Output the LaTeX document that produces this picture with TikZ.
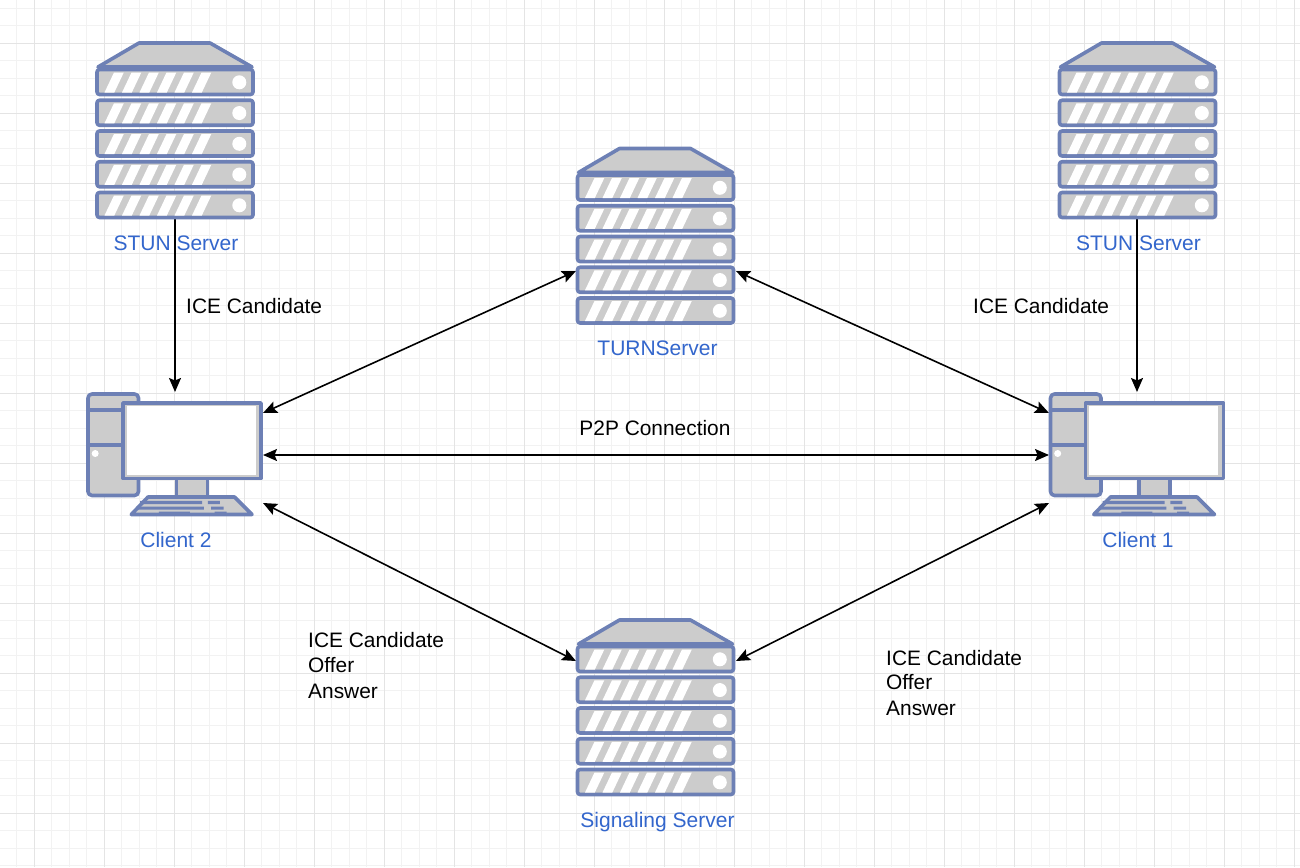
\documentclass[tikz,border=0pt]{standalone}
\usepackage{fontspec}
\setmainfont{Liberation Sans}
\usetikzlibrary{arrows.meta}
\definecolor{icoline}{HTML}{6D80B5}
\definecolor{icofill}{HTML}{CCCCCC}
\definecolor{lblblue}{HTML}{3366CC}
\definecolor{gridminor}{HTML}{F2F2F2}
\definecolor{gridmajor}{HTML}{E4E4E4}
\tikzset{
  x=1pt,y=-1pt,
  ico/.style={draw=icoline,fill=icofill,line width=3.6pt,line join=round},
  holder/.style={inner sep=0pt,outer sep=0pt,minimum width=158pt,minimum height=176pt},
  pcholder/.style={inner sep=0pt,outer sep=0pt,minimum width=176pt,minimum height=125pt},
  bluelabel/.style={text=lblblue,font=\fontsize{21}{25}\selectfont,inner sep=0pt},
  blacklabel/.style={text=black,font=\fontsize{20.9}{25}\selectfont,inner sep=0pt,align=left},
  conn/.style={draw=black,line width=1.6pt,{Stealth[length=14pt,width=12pt,inset=2.5pt]}-{Stealth[length=14pt,width=12pt,inset=2.5pt]}},
  connone/.style={draw=black,line width=1.6pt,-{Stealth[length=14pt,width=12pt,inset=2.5pt]}},
  server/.pic={
    \path[ico] (43,0) -- (114,0) -- (156,24) -- (2,24) -- cycle;
    \foreach \u in {26.5,57.25,88,118.75,149.5}{
      \path[ico] (1,\u) [rounded corners=2.5pt] rectangle (157,\u+25);
      \foreach \s in {0,17.5,35,52.5,70,87.5}{
        \fill[white] (8.5+\s,\u+23) -- (18.3+\s,\u+23) -- (27.8+\s,\u+3) -- (18+\s,\u+3) -- cycle;
      }
      \fill[white] (143.3,\u+12.8) circle (7pt);
    }
  },
  client/.pic={
    \path[ico] (2.5,2.5) [rounded corners=4pt] rectangle (53,104);
    \draw[icoline,line width=3.6pt] (2.5,18.7) -- (38,18.7) (2.5,53.7) -- (38,53.7);
    \fill[white] (9.7,62) circle (3.5pt);
    \path[ico] (90.8,87) rectangle (122,105);
    \path[ico] (62.5,105.5) -- (149,105.5) -- (166.5,123) -- (45.8,123) -- cycle;
    \fill[icoline] (54.5,109.3) rectangle (116.7,112.7) (122.3,109.3) rectangle (134.3,112.7)
      (51,115) rectangle (118.3,118) (125.7,115) rectangle (138,118)
      (73.3,120) rectangle (104.3,123) (129,120) rectangle (141,123);
    \path[ico] (37.5,11.5) rectangle (175.5,87);
    \fill[white] (41.3,14.7) rectangle (170,83.7);
  }
}
\begin{document}
\begin{tikzpicture}
\useasboundingbox (0,0) rectangle (1300,867);
\fill[white] (0,0) rectangle (1300,867);
% grid
\foreach \i in {0,...,74}{
  \draw[gridminor,line width=.9pt] ({-.6+17.5*\i},0) -- ({-.6+17.5*\i},867);
}
\foreach \i in {0,...,49}{
  \draw[gridminor,line width=.9pt] (0,{8.3+17.5*\i}) -- (1300,{8.3+17.5*\i});
}
\foreach \i in {0,...,18}{
  \draw[gridmajor,line width=.9pt] ({34.4+70*\i},0) -- ({34.4+70*\i},867);
}
\foreach \i in {0,...,12}{
  \draw[gridmajor,line width=.9pt] (0,{43.3+70*\i}) -- (1300,{43.3+70*\i});
}
% placeholders
\node[holder] (stunL) at (175,131) {};
\node[holder] (stunR) at (1137,131) {};
\node[holder] (turn) at (656,236.5) {};
\node[holder] (sig) at (656,708) {};
\node[pcholder] (cL) at (175,454.5) {};
\node[pcholder] (cR) at (1137,454.5) {};
\coordinate (cLn) at (263,413);
\coordinate (cLs) at (263,503);
\coordinate (cRn) at (1049,413);
\coordinate (cRs) at (1049,503);
\coordinate (turnW) at (576,271);
\coordinate (turnE) at (736,271);
\coordinate (sigW) at (576,661);
\coordinate (sigE) at (736,661);
\coordinate (p2pL) at (263,455);
\coordinate (p2pR) at (1049,455);
% connectors
\draw[connone] (stunL.south) -- (cL.north);
\draw[connone] (stunR.south) -- (cR.north);
\draw[conn] (cLn) -- (turnW);
\draw[conn] (cRn) -- (turnE);
\draw[conn] (p2pL) -- (p2pR);
\draw[conn] (cLs) -- (sigW);
\draw[conn] (cRs) -- (sigE);
% icons
\pic at (96,43) {server};
\pic at (1058.5,43) {server};
\pic at (576.5,148.5) {server};
\pic at (576.5,620) {server};
\pic at (85.5,391.5) {client};
\pic at (1048,391.5) {client};
% labels
\node[bluelabel] (l1) at (176,243) {STUN Server};
\node[bluelabel] (l2) at (1138.5,243) {STUN Server};
\node[bluelabel] (l3) at (657.5,348) {TURNServer};
\node[bluelabel] (l4) at (176,540) {Client 2};
\node[bluelabel] (l5) at (1138,540) {Client 1};
\node[bluelabel] (l6) at (657.5,822) {Signaling Server};
\node[blacklabel,anchor=west] (t1) at (186,306) {ICE Candidate};
\node[blacklabel,anchor=west] (t2) at (973,306) {ICE Candidate};
\node[blacklabel] (t3) at (655,428) {P2P Connection};
\node[blacklabel,anchor=west] (t4a) at (308,640) {ICE Candidate};
\node[blacklabel,anchor=west] (t4b) at (308,665) {Offer};
\node[blacklabel,anchor=west] (t4c) at (308,691) {Answer};
\node[blacklabel,anchor=west] (t5a) at (886,658) {ICE Candidate};
\node[blacklabel,anchor=west] (t5b) at (886,682) {Offer};
\node[blacklabel,anchor=west] (t5c) at (886,708) {Answer};
\end{tikzpicture}
\end{document}
